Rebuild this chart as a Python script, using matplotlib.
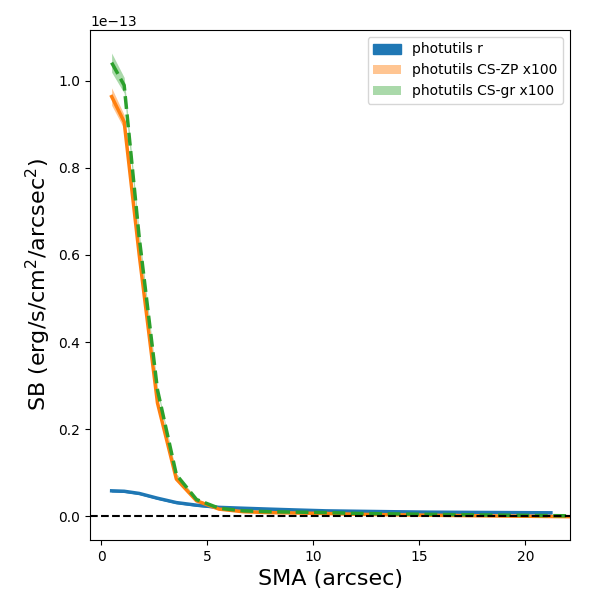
import numpy as np
import matplotlib
matplotlib.use('Agg')
import matplotlib.pyplot as plt

# semi-major axis (arcsec)
sma = np.array([0.5, 1.09, 1.8, 2.66, 3.55, 4.5, 5.56, 6.7, 7.9, 9.2,
                10.6, 12.1, 13.7, 15.4, 17.2, 19.1, 21.2, 23.4])

# surface brightness, units of 1e-13 erg/s/cm2/arcsec2
sb_r = np.array([0.058, 0.057, 0.052, 0.041, 0.031, 0.025, 0.020, 0.018, 0.016,
                 0.014, 0.012, 0.011, 0.010, 0.009, 0.0085, 0.008, 0.0075])
err_r = np.array([0.001, 0.001, 0.001, 0.001, 0.001, 0.001, 0.001, 0.001, 0.001,
                  0.001, 0.001, 0.001, 0.001, 0.001, 0.001, 0.001, 0.001])

sb_zp = np.array([0.964, 0.906, 0.60, 0.26, 0.085, 0.035, 0.016, 0.010, 0.008,
                  0.007, 0.006, 0.004, 0.003, 0.002, 0.001, 0.0, -0.001, -0.002])
err_zp = np.array([0.02, 0.016, 0.011, 0.006, 0.003, 0.002, 0.002, 0.001, 0.001,
                   0.001, 0.001, 0.001, 0.001, 0.001, 0.001, 0.001, 0.001, 0.001])

sb_gr = np.array([1.042, 0.99, 0.64, 0.29, 0.095, 0.038, 0.018, 0.012, 0.010,
                  0.009, 0.008, 0.006, 0.005, 0.004, 0.003, 0.002, 0.001, 0.0])
err_gr = np.array([0.022, 0.018, 0.012, 0.006, 0.003, 0.002, 0.002, 0.001, 0.001,
                   0.001, 0.001, 0.001, 0.001, 0.001, 0.001, 0.001, 0.001, 0.001])

scale = 1e-13
x_r = sma[:len(sb_r)]

fig, ax = plt.subplots(figsize=(6, 6), dpi=100)
fig.subplots_adjust(left=0.15, right=0.95, top=0.95, bottom=0.1)

ax.plot(x_r, sb_r * scale, color='C0', lw=2.5)
ax.fill_between(x_r, (sb_r - err_r) * scale, (sb_r + err_r) * scale,
                color='C0', label='photutils r')

ax.plot(sma, sb_zp * scale, color='C1', lw=2.5)
ax.fill_between(sma, (sb_zp - err_zp) * scale, (sb_zp + err_zp) * scale,
                color='C1', alpha=0.45, lw=0, label='photutils CS-ZP x100')

ax.plot(sma, sb_gr * scale, color='C2', lw=2.5, ls='--')
ax.fill_between(sma, (sb_gr - err_gr) * scale, (sb_gr + err_gr) * scale,
                color='C2', alpha=0.4, lw=0, label='photutils CS-gr x100')

ax.axhline(0, color='k', ls='--')

ax.set_xlim(-0.52, 22.1)
ax.set_ylim(-0.055e-13, 1.117e-13)
ax.set_xlabel('SMA (arcsec)', fontsize=16)
ax.set_ylabel('SB (erg/s/cm$^2$/arcsec$^2$)', fontsize=16)
ax.legend(loc='upper right')

fig.savefig('out.png')
